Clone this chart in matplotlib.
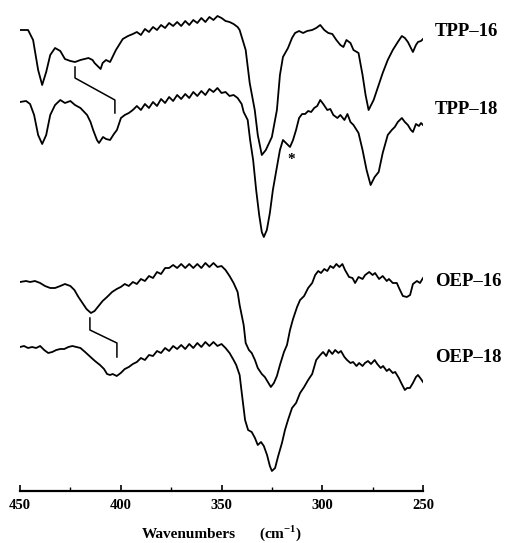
import matplotlib
matplotlib.use("Agg")
import matplotlib.pyplot as plt
from matplotlib.ticker import MultipleLocator

plt.rcParams['font.family'] = ['Liberation Serif', 'DejaVu Serif']
plt.rcParams['mathtext.fontset'] = 'custom'
plt.rcParams['mathtext.rm'] = 'Liberation Serif:bold'
plt.rcParams['mathtext.bf'] = 'Liberation Serif:bold'

# ---------------- data (wavenumber cm-1, trace height in arbitrary units) ----------------
tpp16_wn = [450, 446, 443.5, 441, 439, 437, 435, 432.6, 430, 427.7, 425, 422.7, 420, 416, 414, 413, 410, 409,
            407.3, 405.3, 402.4, 399, 396.4, 394, 392, 390, 388, 386, 384, 382, 380, 378, 376, 374, 372, 370,
            368, 366, 364, 362, 360, 358, 356, 354, 352, 350, 348, 346, 344, 342, 341, 338, 336, 333.5, 332,
            330, 328, 325, 322.5, 321, 319.5, 317, 315, 313.5, 311.5, 309.5, 307.5, 305, 303, 301, 299, 297,
            295, 293, 291, 289.5, 288, 286, 284.5, 282, 280, 278.5, 277, 274.5, 272, 270, 267.5, 265, 262.5,
            260.5, 259, 257.5, 256, 255, 253.5, 252.5, 251, 250]
tpp16_y = [461, 461, 451, 421, 406, 419, 436, 443, 440, 432, 430, 429, 431, 433, 431, 428, 422, 428,
           431, 429, 441, 452, 455, 457, 459, 456, 462, 459, 464, 461, 466, 463, 468, 465, 469, 465,
           470, 466, 471, 468, 473, 469, 474, 471, 475, 473, 470, 469, 467, 464, 461, 441, 408, 381, 356,
           336, 341, 354, 381, 416, 434, 443, 453, 458, 460, 458, 460, 461, 463, 466, 461, 458,
           457, 451, 446, 444, 451, 448, 441, 438, 416, 396, 381, 391, 406, 418, 431, 441, 449,
           455, 453, 449, 443, 439, 446, 449, 450, 452]

tpp18_wn = [450, 447, 445, 443, 441, 439, 437, 435, 432.6, 430, 427.7, 425, 422.7, 420, 416.7, 415, 413.7,
            411.8, 410.8, 408.8, 407.3, 405.3, 403.4, 401.9, 399.9, 398, 396, 394, 392, 390, 388, 386, 384,
            382, 380, 378, 376, 374, 372, 370, 368, 366, 364, 362, 360, 358, 356, 354, 352, 350, 348, 346,
            344, 342, 340, 339, 337, 335.8, 334.3, 332.8, 331.3, 330, 329, 327.5, 326, 324.5, 322.5, 321,
            319.5, 317.5, 316, 314.5, 313, 311.5, 310, 308.5, 307, 305.5, 304, 302.5, 301, 299.5, 297.5,
            296, 294.5, 292.5, 291, 289, 287.5, 286, 284.5, 282, 280, 278, 276, 274, 272, 270, 267.5, 265.5,
            264, 262.5, 260.5, 259, 257.5, 256, 255, 253.5, 252, 251, 250]
tpp18_y = [389, 390, 387, 376, 356, 347, 356, 376, 386, 391, 388, 390, 386, 383, 376, 369, 361,
           351, 348, 354, 352, 351, 357, 361, 373, 376, 378, 381, 385, 381, 387, 383, 389,
           385, 392, 388, 394, 390, 396, 392, 397, 393, 399, 395, 400, 396, 402, 399, 403, 398, 399, 395,
           396, 393, 387, 379, 371, 351, 331, 301, 276, 259, 254, 261, 278, 301, 324, 341,
           351, 347, 344, 351, 361, 373, 377, 377, 380, 379, 383, 385, 391, 387, 381,
           382, 376, 373, 376, 371, 377, 369, 366, 358, 341, 321, 306, 314, 319, 338, 356, 361,
           364, 369, 373, 369, 366, 361, 359, 367, 365, 368, 366]

oep16_wn = [450, 447, 445, 442.6, 440, 437.6, 435, 432.6, 430, 427.7, 425, 423, 421, 419, 417, 414.8, 413,
            411, 409, 406.8, 404.3, 402, 400, 398, 396, 394, 392, 390, 388, 386, 384, 382, 380, 378, 376,
            374, 372, 370, 368, 366, 364, 362, 360, 358, 356, 354, 352, 350, 348, 346, 344, 342, 341, 339,
            338, 336.4, 335, 333.4, 332, 330, 328.5, 327, 325.5, 324, 322.5, 321, 319, 317.5, 316, 314.5,
            312.5, 311, 309, 307, 305, 303.5, 302, 300.6, 299, 297.5, 296, 294.5, 293, 291.5, 290, 288.7,
            286.7, 285, 283.7, 282, 280, 278.7, 276.7, 275, 273.8, 271.8, 270, 268, 266.9, 265, 263, 261.9,
            260, 258, 256.4, 255, 253, 251.5, 250]
oep16_y = [209, 210, 209, 210, 208, 205, 203, 203, 205, 207, 205, 201, 194, 188, 182, 178, 180,
           185, 190, 194, 199, 202, 204, 207, 205, 209, 207, 212, 210, 215, 213, 219, 217, 223, 223,
           226, 223, 227, 223, 227, 223, 227, 223, 228, 224, 228, 224, 225, 221, 215, 208, 199, 186, 166,
           148, 141, 138, 131, 123, 117, 114, 109, 104, 108, 115, 126, 139, 146, 161, 172,
           184, 191, 195, 203, 208, 216, 220, 218, 222, 220, 225, 223, 227, 224, 227, 221,
           214, 213, 208, 214, 212, 216, 219, 216, 218, 212, 215, 210, 212, 208, 208, 203,
           195, 194, 196, 207, 210, 208, 213]

oep18_wn = [450, 448, 446, 444, 442, 440, 438, 436, 434, 432, 430, 428, 426, 424, 422, 420, 417.7, 415,
            412.8, 410.3, 408.3, 406.8, 405.3, 404, 402, 400, 398, 396, 394, 392, 390, 388, 386, 384, 382,
            380, 378, 376, 374, 372, 370, 368, 366, 364, 362, 360, 358, 356, 354, 352, 350, 348, 346, 344,
            342.7, 341, 340, 338.3, 336.8, 335, 333.4, 332, 330.4, 329, 327.4, 326, 325, 323.4, 322, 320,
            318.5, 317, 315, 313, 311, 309, 307, 305, 303, 301, 299.6, 298, 296.7, 295, 293.6, 292, 290.7,
            289, 287.7, 286, 284.7, 283, 281.7, 280, 278.8, 277.3, 275.8, 274, 272.7, 271, 269.8, 268,
            266.8, 265, 263.8, 262, 260.8, 259, 257.9, 256.5, 255, 253.5, 252.5, 251, 250]
oep18_y = [144, 145, 143, 144, 143, 145, 141, 138, 139, 141, 142, 142, 144, 145, 144, 143, 139, 134,
           130, 126, 122, 117, 116, 117, 115, 118, 122, 124, 127, 129, 133, 131, 136, 135, 140,
           138, 143, 140, 145, 142, 146, 142, 147, 143, 148, 144, 149, 145, 149, 145, 147, 143, 138, 131,
           126, 116, 99, 71, 61, 59, 53, 46, 49, 45, 36, 25, 20, 23, 34, 48,
           61, 71, 83, 88, 98, 104, 111, 117, 131, 136, 139, 135, 141, 137, 141, 138, 140,
           134, 131, 128, 129, 125, 128, 125, 128, 130, 127, 131, 127, 123, 125, 120,
           122, 118, 119, 113, 108, 101, 103, 103, 108, 114, 116, 112, 109]

trace_names = ['TPP\u201316', 'TPP\u201318', 'OEP\u201316', 'OEP\u201318']
label_px_y = [31, 109, 282, 357]

bracket_tpp_wn = [422.7, 422.7, 402.9, 402.9]
bracket_tpp_y = [424, 413, 391, 378]
bracket_oep_wn = [415.3, 415.3, 401.9, 401.9]
bracket_oep_y = [173, 161, 148, 134]

star_wn, star_y = 315.5, 332

xticks = [450, 400, 350, 300, 250]

# ---------------- figure ----------------
W, H = 506, 543
fig = plt.figure(figsize=(W / 100, H / 100), dpi=100)
ax = fig.add_axes([20 / W, (H - 491) / H, 403 / W, 491 / H])

for wn, y in [(tpp16_wn, tpp16_y), (tpp18_wn, tpp18_y), (oep16_wn, oep16_y), (oep18_wn, oep18_y)]:
    ax.plot(wn, y, color='black', lw=1.3, solid_joinstyle='round')

ax.plot(bracket_tpp_wn, bracket_tpp_y, color='black', lw=1.1)
ax.plot(bracket_oep_wn, bracket_oep_y, color='black', lw=1.1)
ax.text(star_wn, star_y, '*', ha='center', va='center', fontsize=11, fontweight='bold')

ax.set_xlim(450, 250)
ax.set_ylim(0, 491)
ax.set_xticks(xticks)
ax.xaxis.set_minor_locator(MultipleLocator(25))
ax.set_xticklabels([str(t) for t in xticks], fontsize=10.5, fontweight='bold')
ax.tick_params(axis='x', which='major', direction='in', length=4, width=1.2, pad=6)
ax.tick_params(axis='x', which='minor', direction='in', length=3, width=1.0)
ax.set_yticks([])
for s in ['top', 'left', 'right']:
    ax.spines[s].set_visible(False)
ax.spines['bottom'].set_linewidth(1.6)
ax.patch.set_alpha(0)

for name, py in zip(trace_names, label_px_y):
    fig.text(435 / W, 1 - py / H, name, ha='left', va='center', fontsize=13.5, fontweight='bold')

fig.text(189 / W, 1 - 534 / H, 'Wavenumbers', ha='center', va='center', fontsize=11, fontweight='bold')
fig.text(280 / W, 1 - 533 / H, r'(cm$^{\mathbf{-1}}$)', ha='center', va='center', fontsize=11, fontweight='bold')

fig.savefig('out.png', dpi=100)
